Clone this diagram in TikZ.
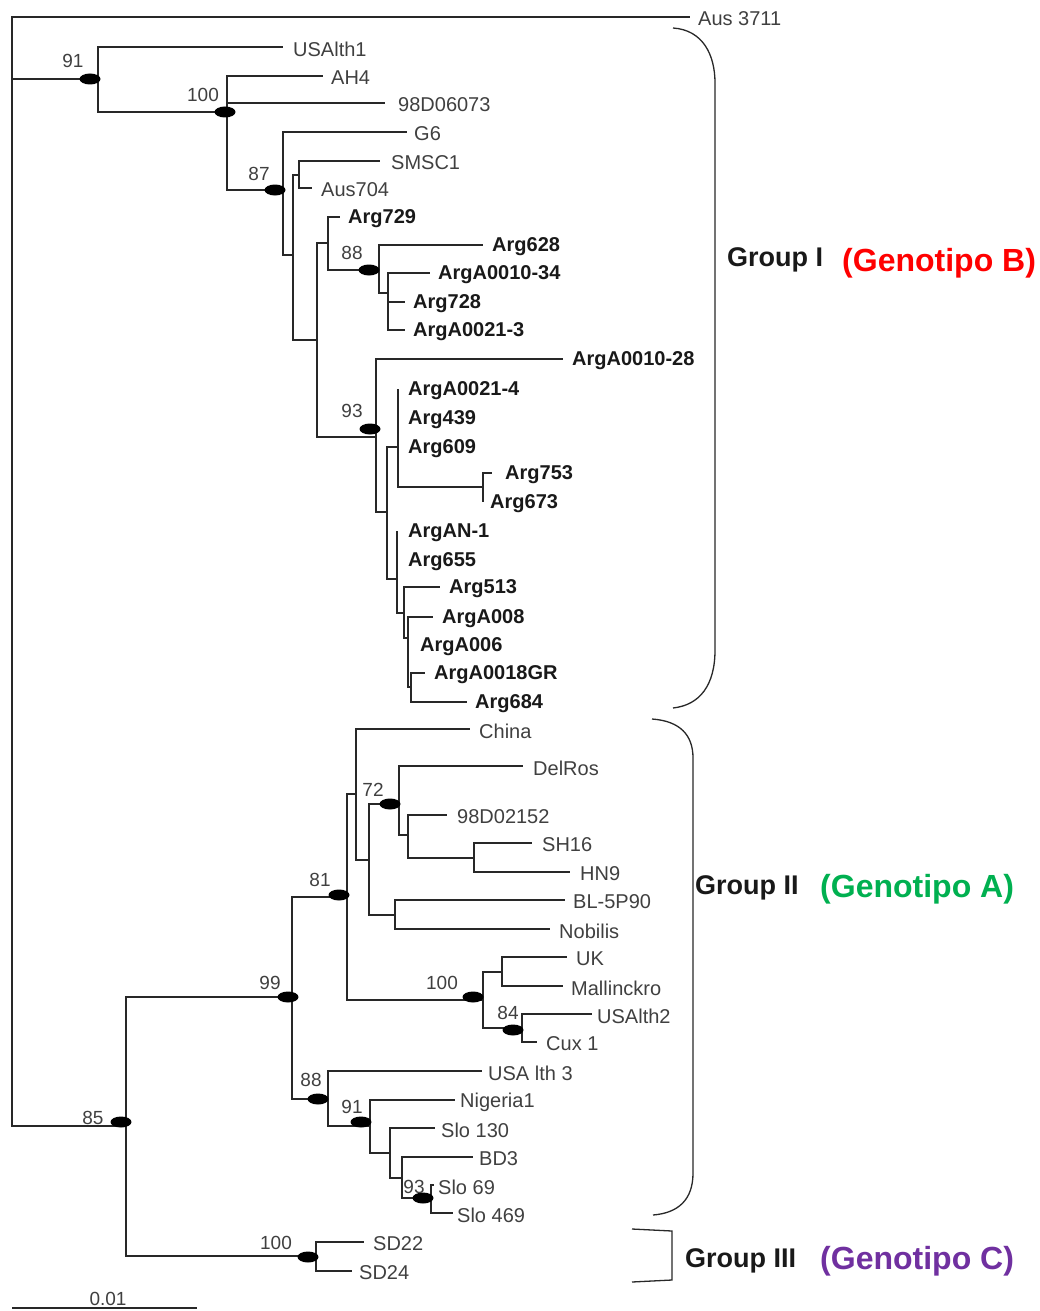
\documentclass[tikz,border=0pt]{standalone}
\usepackage{fontspec}
\setmainfont{Liberation Sans}
\usetikzlibrary{shapes.geometric}
\definecolor{gred}{RGB}{255,0,0}
\definecolor{ggreen}{RGB}{0,176,80}
\definecolor{gpurple}{RGB}{112,48,160}
\definecolor{linec}{RGB}{40,40,40}
\newcommand\Leaf[6]{%
  \coordinate (#1) at (#2,#4);
  \node[#5, anchor=west] (#1-lab) at (#3,#4) {#6};
}
\begin{document}
\begin{tikzpicture}[x=1pt,y=-1pt,
  br/.style={draw=linec, line width=1.3pt},
  reg/.style={inner sep=0pt, yshift=-2pt, text=black!75, font=\fontsize{20}{22}\selectfont},
  bld/.style={inner sep=0pt, yshift=-2pt, text=black!90, font=\fontsize{20}{22}\selectfont\bfseries},
  bnum/.style={inner sep=0pt, text=black!75, font=\fontsize{19}{21}\selectfont},
  boot/.style={ellipse, fill=black, inner sep=0pt, minimum width=21pt, minimum height=11pt},
  grp/.style={inner sep=0pt, anchor=west, font=\fontsize{27}{30}\selectfont\bfseries, text=black!90},
  geno/.style={inner sep=0pt, anchor=west, font=\fontsize{32}{35}\selectfont\bfseries},
  brk/.style={draw=linec, line width=1.3pt}
]
\fill[white] (0,0) rectangle (1040,1311);
\useasboundingbox (0,0) rectangle (1040,1311);

% ---------- internal nodes ----------
\coordinate (root) at (12,79);
\coordinate (n91) at (98,79);
\coordinate (n100a) at (227,112);
\coordinate (n87) at (283,190);
\coordinate (nB) at (293,255);
\coordinate (nSM) at (299,175);
\coordinate (nC) at (317,340);
\coordinate (nD) at (328,243);
\coordinate (n88) at (379,270);
\coordinate (nE) at (388,293);
\coordinate (n93) at (376,437);
\coordinate (nF) at (387,512);
\coordinate (nG) at (398,447);
\coordinate (nI) at (483,487);
\coordinate (nH) at (397,579);
\coordinate (nJ) at (404,613);
\coordinate (nK) at (408,638);
\coordinate (nL) at (411,687);
\coordinate (n85) at (126,1126);
\coordinate (n99) at (292,997);
\coordinate (n100c) at (316,1256);
\coordinate (n81) at (347,897);
\coordinate (n88b) at (328,1099);
\coordinate (nX) at (356,794);
\coordinate (n100b) at (483,1000);
\coordinate (nY) at (369,860);
\coordinate (nBL) at (395,915);
\coordinate (n72) at (399,804);
\coordinate (nZ) at (408,835);
\coordinate (nSH) at (474,858);
\coordinate (nUK) at (502,972);
\coordinate (n84) at (522,1028);
\coordinate (n91b) at (370,1126);
\coordinate (n130) at (390,1153);
\coordinate (nBD) at (402,1178);
\coordinate (n93b) at (431,1198);

% ---------- leaves ----------
\Leaf{Aus3711}{690}{698}{17}{reg}{Aus 3711}
\Leaf{USAlth1}{283}{293}{47}{reg}{USAlth1}
\Leaf{AH4}{323}{331}{76}{reg}{AH4}
\Leaf{D06073}{385}{398}{103}{reg}{98D06073}
\Leaf{G6}{407}{414}{132}{reg}{G6}
\Leaf{SMSC1}{380}{391}{161}{reg}{SMSC1}
\Leaf{Aus704}{312}{321}{188}{reg}{Aus704}
\Leaf{Arg729}{340}{348}{217}{bld}{Arg729}
\Leaf{Arg628}{483}{492}{245}{bld}{Arg628}
\Leaf{ArgA001034}{430}{438}{273}{bld}{ArgA0010-34}
\Leaf{Arg728}{405}{413}{302}{bld}{Arg728}
\Leaf{ArgA00213}{405}{413}{330}{bld}{ArgA0021-3}
\Leaf{ArgA001028}{563}{572}{359}{bld}{ArgA0010-28}
\Leaf{ArgA00214}{398}{408}{389}{bld}{ArgA0021-4}
\Leaf{Arg439}{398}{408}{418}{bld}{Arg439}
\Leaf{Arg609}{398}{408}{447}{bld}{Arg609}
\Leaf{Arg753}{492}{505}{473}{bld}{Arg753}
\Leaf{Arg673}{483}{490}{502}{bld}{Arg673}
\Leaf{ArgAN1}{397}{408}{531}{bld}{ArgAN-1}
\Leaf{Arg655}{397}{408}{560}{bld}{Arg655}
\Leaf{Arg513}{440}{449}{587}{bld}{Arg513}
\Leaf{ArgA008}{433}{442}{617}{bld}{ArgA008}
\Leaf{ArgA006}{408}{420}{645}{bld}{ArgA006}
\Leaf{ArgA0018GR}{425}{434}{673}{bld}{ArgA0018GR}
\Leaf{Arg684}{467}{475}{702}{bld}{Arg684}
\Leaf{China}{470}{479}{729}{reg}{China}
\Leaf{DelRos}{523}{533}{766}{reg}{DelRos}
\Leaf{D02152}{447}{457}{815}{reg}{98D02152}
\Leaf{SH16}{532}{542}{843}{reg}{SH16}
\Leaf{HN9}{570}{580}{872}{reg}{HN9}
\Leaf{BL5P90}{565}{573}{900}{reg}{BL-5P90}
\Leaf{Nobilis}{550}{559}{929}{reg}{Nobilis}
\Leaf{UK}{567}{576}{957}{reg}{UK}
\Leaf{Mallinckro}{563}{571}{986}{reg}{Mallinckro}
\Leaf{USAlth2}{592}{597}{1014}{reg}{USAlth2}
\Leaf{Cux1}{537}{546}{1042}{reg}{Cux 1}
\Leaf{USAlth3}{482}{488}{1071}{reg}{USA lth 3}
\Leaf{Nigeria1}{455}{460}{1100}{reg}{Nigeria1}
\Leaf{Slo130}{435}{441}{1128}{reg}{Slo 130}
\Leaf{BD3}{473}{479}{1157}{reg}{BD3}
\Leaf{Slo69}{434}{438}{1185}{reg}{Slo 69}
\Leaf{Slo469}{453}{457}{1213}{reg}{Slo 469}
\Leaf{SD22}{364}{373}{1242}{reg}{SD22}
\Leaf{SD24}{352}{359}{1271}{reg}{SD24}

% ---------- branches ----------
\draw[br] (root) |- (Aus3711);
\draw[br] (root) |- (n91);
\draw[br] (root) |- (n85);
\draw[br] (n91) |- (USAlth1);
\draw[br] (n91) |- (n100a);
\draw[br] (n100a) |- (AH4);
\draw[br] (n100a) |- (D06073);
\draw[br] (n100a) |- (n87);
\draw[br] (n87) |- (G6);
\draw[br] (n87) |- (nB);
\draw[br] (nB) |- (nSM);
\draw[br] (nB) |- (nC);
\draw[br] (nSM) |- (SMSC1);
\draw[br] (nSM) |- (Aus704);
\draw[br] (nC) |- (nD);
\draw[br] (nC) |- (n93);
\draw[br] (nD) |- (Arg729);
\draw[br] (nD) |- (n88);
\draw[br] (n88) |- (Arg628);
\draw[br] (n88) |- (nE);
\draw[br] (nE) |- (ArgA001034);
\draw[br] (nE) |- (Arg728);
\draw[br] (nE) |- (ArgA00213);
\draw[br] (n93) |- (ArgA001028);
\draw[br] (n93) |- (nF);
\draw[br] (nF) |- (nG);
\draw[br] (nF) |- (nH);
\draw[br] (nG) |- (ArgA00214);
\draw[br] (nG) |- (Arg439);
\draw[br] (nG) |- (Arg609);
\draw[br] (nG) |- (nI);
\draw[br] (nI) |- (Arg753);
\draw[br] (nI) |- (Arg673);
\draw[br] (nH) |- (ArgAN1);
\draw[br] (nH) |- (Arg655);
\draw[br] (nH) |- (nJ);
\draw[br] (nJ) |- (Arg513);
\draw[br] (nJ) |- (nK);
\draw[br] (nK) |- (ArgA008);
\draw[br] (nK) |- (ArgA006);
\draw[br] (nK) |- (nL);
\draw[br] (nL) |- (ArgA0018GR);
\draw[br] (nL) |- (Arg684);
\draw[br] (n85) |- (n99);
\draw[br] (n85) |- (n100c);
\draw[br] (n99) |- (n81);
\draw[br] (n99) |- (n88b);
\draw[br] (n81) |- (nX);
\draw[br] (n81) |- (n100b);
\draw[br] (nX) |- (China);
\draw[br] (nX) |- (nY);
\draw[br] (nY) |- (n72);
\draw[br] (nY) |- (nBL);
\draw[br] (n72) |- (DelRos);
\draw[br] (n72) |- (nZ);
\draw[br] (nZ) |- (D02152);
\draw[br] (nZ) |- (nSH);
\draw[br] (nSH) |- (SH16);
\draw[br] (nSH) |- (HN9);
\draw[br] (nBL) |- (BL5P90);
\draw[br] (nBL) |- (Nobilis);
\draw[br] (n100b) |- (nUK);
\draw[br] (n100b) |- (n84);
\draw[br] (nUK) |- (UK);
\draw[br] (nUK) |- (Mallinckro);
\draw[br] (n84) |- (USAlth2);
\draw[br] (n84) |- (Cux1);
\draw[br] (n88b) |- (USAlth3);
\draw[br] (n88b) |- (n91b);
\draw[br] (n91b) |- (Nigeria1);
\draw[br] (n91b) |- (n130);
\draw[br] (n130) |- (Slo130);
\draw[br] (n130) |- (nBD);
\draw[br] (nBD) |- (BD3);
\draw[br] (nBD) |- (n93b);
\draw[br] (n93b) |- (Slo69);
\draw[br] (n93b) |- (Slo469);
\draw[br] (n100c) |- (SD22);
\draw[br] (n100c) |- (SD24);

% ---------- bootstrap marks ----------
\node[boot] (e91) at (90,79) {};
\node[boot] (e100a) at (225,112) {};
\node[boot] (e87) at (275,190) {};
\node[boot] (e88) at (369,270) {};
\node[boot] (e93) at (370,429) {};
\node[boot] (e72) at (390,804) {};
\node[boot] (e81) at (339,895) {};
\node[boot] (e100b) at (473,997) {};
\node[boot] (e84) at (513,1030) {};
\node[boot] (e99) at (288,997) {};
\node[boot] (e88b) at (318,1099) {};
\node[boot] (e91b) at (361,1122) {};
\node[boot] (e93b) at (423,1198) {};
\node[boot] (e85) at (121,1122) {};
\node[boot] (e100c) at (308,1257) {};

\node[bnum] (t91) at (73,61) {91};
\node[bnum] (t100a) at (203,95) {100};
\node[bnum] (t87) at (259,174) {87};
\node[bnum] (t88) at (352,253) {88};
\node[bnum] (t93) at (352,411) {93};
\node[bnum] (t72) at (373,790) {72};
\node[bnum] (t81) at (320,880) {81};
\node[bnum] (t100b) at (442,983) {100};
\node[bnum] (t84) at (508,1013) {84};
\node[bnum] (t99) at (270,983) {99};
\node[bnum] (t88b) at (311,1080) {88};
\node[bnum] (t91b) at (352,1107) {91};
\node[bnum] (t93b) at (414,1187) {93};
\node[bnum] (t85) at (93,1118) {85};
\node[bnum] (t100c) at (276,1243) {100};

% ---------- scale bar ----------
\coordinate (sb1) at (12,1308);
\coordinate (sb2) at (197,1308);
\draw[br] (sb1) -- (sb2);
\node[bnum] (sbl) at (108,1299) {0.01};

% ---------- group brackets ----------
\coordinate (g1a) at (673,28);
\coordinate (g1b) at (715,83);
\coordinate (g1c) at (715,650);
\coordinate (g1d) at (673,708);
\draw[brk] (g1a) .. controls (703,30) and (715,55) .. (g1b) -- (g1c) .. controls (715,685) and (700,705) .. (g1d);

\coordinate (g2a) at (652,719);
\coordinate (g2b) at (693,758);
\coordinate (g2c) at (693,1173);
\coordinate (g2d) at (653,1215);
\draw[brk] (g2a) .. controls (680,721) and (693,735) .. (g2b) -- (g2c) .. controls (693,1200) and (678,1213) .. (g2d);

\coordinate (g3a) at (632,1229);
\coordinate (g3b) at (672,1231);
\coordinate (g3c) at (672,1280);
\coordinate (g3d) at (632,1282);
\draw[brk] (g3a) -- (g3b) -- (g3c) -- (g3d);

\node[grp] (grpI) at (727,260) {Group I};
\node[geno, text=gred] (genoB) at (842,263) {(Genotipo B)};
\node[grp] (grpII) at (695,888) {Group II};
\node[geno, text=ggreen] (genoA) at (820,889) {(Genotipo A)};
\node[grp] (grpIII) at (685,1261) {Group III};
\node[geno, text=gpurple] (genoC) at (820,1261) {(Genotipo C)};
\end{tikzpicture}
\end{document}
